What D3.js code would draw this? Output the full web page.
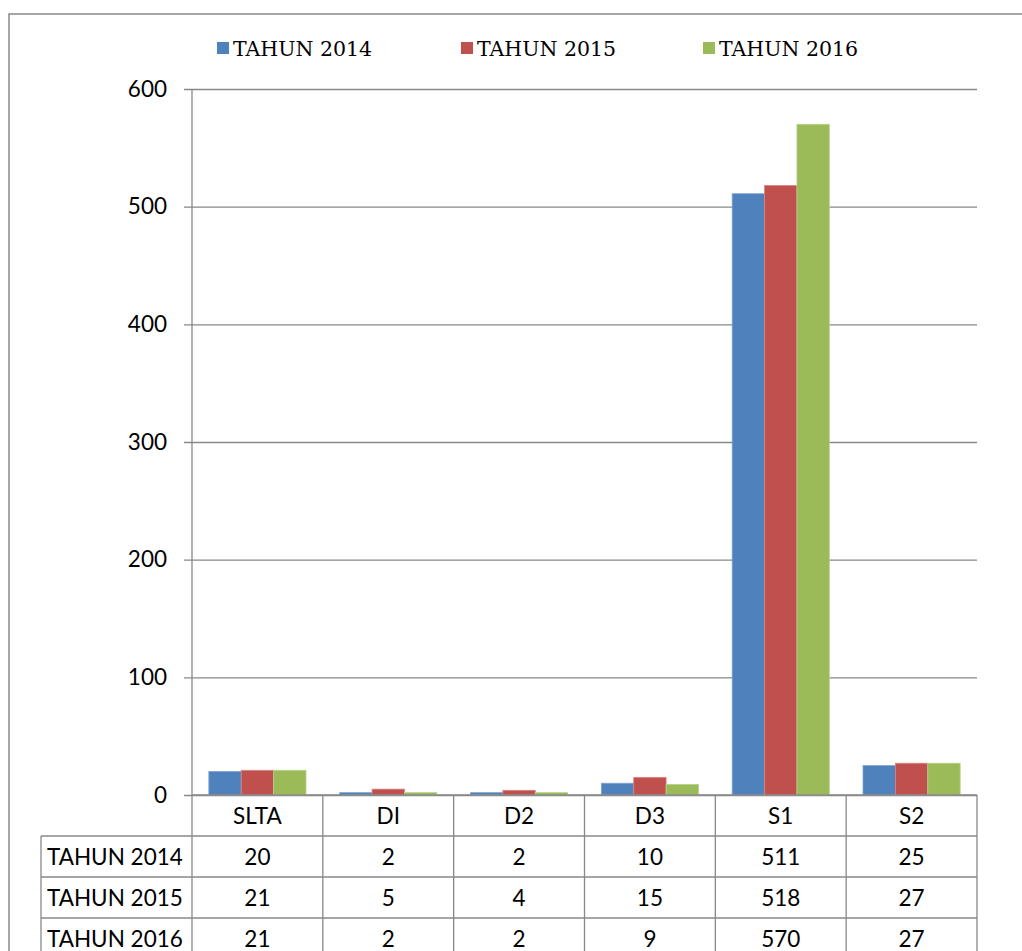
<!DOCTYPE html>
<html>
<head>
<meta charset="utf-8">
<script src="https://cdn.jsdelivr.net/npm/d3@7"></script>
<style>
  body { margin: 0; background: #fff; }
  svg { display: block; }
</style>
</head>
<body>
<div id="chart"></div>
<script>
const categories = ["SLTA", "DI", "D2", "D3", "S1", "S2"];
const seriesNames = ["TAHUN 2014", "TAHUN 2015", "TAHUN 2016"];
const values2014 = [20, 2, 2, 10, 511, 25];
const values2015 = [21, 5, 4, 15, 518, 27];
const values2016 = [21, 2, 2, 9, 570, 27];
const yTicks = [0, 100, 200, 300, 400, 500, 600];
const colors = ["#4F81BD", "#C0504D", "#9BBB59"];
const strokes = ["#7FA3D3", "#D98683", "#B9D189"];

const allSeries = [values2014, values2015, values2016];

const width = 1022, height = 951;
const plotLeft = 192, plotRight = 977, plotTop = 89, zeroY = 795;
const rowH = 41;
const gray = "#888888";
const tableFont = "Lato, 'Open Sans', sans-serif";
const fontSize = 22.5;

const svg = d3.select("#chart").append("svg")
    .attr("width", width)
    .attr("height", height);

// outer frame
svg.append("rect")
    .attr("x", 9).attr("y", 14)
    .attr("width", width + 20).attr("height", height + 20)
    .attr("fill", "none")
    .attr("stroke", gray)
    .attr("stroke-width", 1.5);

const x = d3.scaleBand()
    .domain(categories)
    .range([plotLeft, plotRight]);

const xs = d3.scaleBand()
    .domain(seriesNames)
    .range([0, x.bandwidth()])
    .paddingOuter(0.52);

const y = d3.scaleLinear()
    .domain([0, 600])
    .range([zeroY, plotTop]);

// gridlines + y axis
const yAxis = d3.axisLeft(y)
    .tickValues(yTicks)
    .tickSize(-(plotRight - plotLeft))
    .tickPadding(25)
    .tickFormat(d3.format("d"));

const gy = svg.append("g")
    .attr("transform", `translate(${plotLeft},0)`)
    .call(yAxis);
gy.select(".domain").remove();
gy.selectAll(".tick line")
    .attr("x1", -8)
    .attr("stroke", gray)
    .attr("stroke-width", 1.3);
gy.selectAll(".tick text")
    .attr("font-family", tableFont)
    .attr("font-size", fontSize)
    .attr("fill", "#000");

svg.append("line")
    .attr("x1", plotLeft).attr("x2", plotLeft)
    .attr("y1", plotTop).attr("y2", zeroY)
    .attr("stroke", gray).attr("stroke-width", 1.3);

// bars
allSeries.forEach((vals, si) => {
    svg.append("g")
        .selectAll("rect")
        .data(vals)
        .join("rect")
        .attr("x", (d, i) => x(categories[i]) + xs(seriesNames[si]))
        .attr("y", d => y(d))
        .attr("width", xs.bandwidth())
        .attr("height", d => zeroY - y(d))
        .attr("fill", colors[si])
        .attr("stroke", strokes[si])
        .attr("stroke-width", 0.8);
});

// data table
const tbl = svg.append("g").attr("fill", "none").attr("stroke", gray).attr("stroke-width", 1.3);
const tableLeft = 41;
const bottomY = zeroY + rowH * 4;

// horizontal lines
tbl.append("line").attr("x1", plotLeft).attr("x2", plotRight).attr("y1", zeroY).attr("y2", zeroY);
for (let r = 1; r <= 4; r++) {
    tbl.append("line")
        .attr("x1", tableLeft).attr("x2", plotRight)
        .attr("y1", zeroY + rowH * r).attr("y2", zeroY + rowH * r);
}
// vertical lines
tbl.append("line").attr("x1", tableLeft).attr("x2", tableLeft)
    .attr("y1", zeroY + rowH).attr("y2", bottomY);
categories.forEach(c => {
    tbl.append("line").attr("x1", x(c)).attr("x2", x(c))
        .attr("y1", zeroY).attr("y2", bottomY);
});
tbl.append("line").attr("x1", plotRight).attr("x2", plotRight)
    .attr("y1", zeroY).attr("y2", bottomY);

const txt = svg.append("g")
    .attr("font-family", tableFont)
    .attr("font-size", fontSize)
    .attr("fill", "#000");

txt.selectAll("text.cat")
    .data(categories)
    .join("text")
    .attr("class", "cat")
    .attr("x", d => x(d) + x.bandwidth() / 2)
    .attr("y", zeroY + rowH / 2)
    .attr("dy", "0.36em")
    .attr("text-anchor", "middle")
    .text(d => d);

allSeries.forEach((vals, si) => {
    const rowMid = zeroY + rowH * (si + 1) + rowH / 2;
    txt.append("text")
        .attr("x", tableLeft + 6)
        .attr("y", rowMid)
        .attr("dy", "0.36em")
        .text(seriesNames[si]);
    txt.append("g")
        .selectAll("text")
        .data(vals)
        .join("text")
        .attr("x", (d, i) => x(categories[i]) + x.bandwidth() / 2)
        .attr("y", rowMid)
        .attr("dy", "0.36em")
        .attr("text-anchor", "middle")
        .text(d => d);
});

// legend
const legendX = [217, 461, 703];
const legend = svg.append("g");
seriesNames.forEach((name, i) => {
    legend.append("rect")
        .attr("x", legendX[i]).attr("y", 42)
        .attr("width", 12).attr("height", 12)
        .attr("fill", colors[i]);
    legend.append("text")
        .attr("x", legendX[i] + 16)
        .attr("y", 56)
        .attr("font-family", "'DejaVu Serif', serif")
        .attr("font-size", 20.5)
        .attr("fill", "#000")
        .text(name);
});
</script>
</body>
</html>
